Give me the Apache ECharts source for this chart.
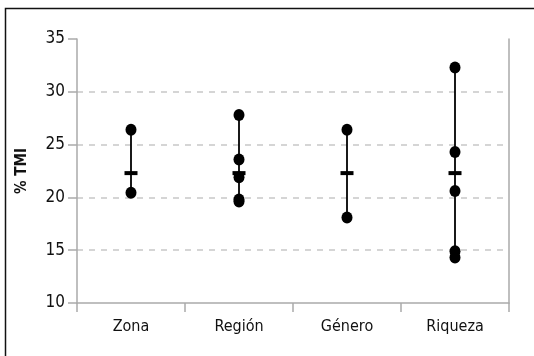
<!DOCTYPE html>
<html><head><meta charset="utf-8">
<script src="https://cdn.jsdelivr.net/npm/echarts@6/dist/echarts.min.js"></script>
<style>html,body{margin:0;padding:0;background:#fff}#c{width:534px;height:356px}</style>
</head><body><div id="c"></div>
<script>
const categories = ['Zona', 'Región', 'Género', 'Riqueza'];
const zonaValues = [26.4, 20.45];
const regionValues = [27.8, 23.6, 21.9, 19.8, 19.6];
const generoValues = [26.4, 18.1];
const riquezaValues = [32.3, 24.3, 20.6, 14.9, 14.3];
const meanValues = [22.3, 22.3, 22.3, 22.3];
const yTicks = [10, 15, 20, 25, 30, 35];

const groups = [zonaValues, regionValues, generoValues, riquezaValues];
const dots = [];
groups.forEach((g, i) => g.forEach(v => dots.push([i, v])));
const ranges = groups.map((g, i) => [i, Math.min(...g), Math.max(...g)]);
const means = meanValues.map((v, i) => [i, v]);

const FONT = '"Liberation Sans Narrow", "DejaVu Sans Condensed", sans-serif';
const chart = echarts.init(document.getElementById('c'));
chart.setOption({
  animation: false,
  grid: { left: 77, right: 25, top: 39, bottom: 53 },
  graphic: [{
    type: 'polyline', silent: true,
    shape: { points: [[5.5, 400], [5.5, 8.5], [600, 8.5]] },
    style: { stroke: '#111', lineWidth: 1.5, fill: null }
  }],
  xAxis: {
    type: 'category', data: categories, boundaryGap: true,
    axisLine: { lineStyle: { color: '#aaa', width: 1.5 } },
    axisTick: { show: true, length: 9, lineStyle: { color: '#aaa', width: 1.5 } },
    axisLabel: { color: '#111', fontFamily: FONT, fontSize: 16, margin: 16 }
  },
  yAxis: [{
    type: 'value', min: yTicks[0], max: yTicks[yTicks.length - 1], interval: 5,
    name: '% TMI', nameLocation: 'middle', nameGap: 47,
    nameTextStyle: { color: '#111', fontFamily: FONT, fontSize: 15, fontWeight: 'bold' },
    axisLine: { show: true, lineStyle: { color: '#aaa', width: 1.5 } },
    axisTick: { show: true, length: 9, lineStyle: { color: '#aaa', width: 1.5 } },
    axisLabel: { color: '#111', fontFamily: FONT, fontSize: 17, margin: 12 },
    splitLine: { show: true, showMinLine: false, showMaxLine: false,
      lineStyle: { color: '#c8c8c8', type: [6, 6], width: 1.5 } }
  }, {
    type: 'value', min: yTicks[0], max: yTicks[yTicks.length - 1], position: 'right',
    axisLine: { show: true, lineStyle: { color: '#aaa', width: 1.5 } },
    axisTick: { show: false }, axisLabel: { show: false }, splitLine: { show: false }
  }],
  series: [{
    type: 'custom', z: 2,
    data: ranges,
    renderItem: function (params, api) {
      const a = api.coord([api.value(0), api.value(1)]);
      const b = api.coord([api.value(0), api.value(2)]);
      return { type: 'line', shape: { x1: a[0], y1: a[1], x2: b[0], y2: b[1] },
        style: { stroke: '#000', lineWidth: 1.8 } };
    }
  }, {
    type: 'scatter', z: 3, data: means, symbol: 'rect', symbolSize: [13, 4],
    itemStyle: { color: '#000', opacity: 1 }
  }, {
    type: 'scatter', z: 4, data: dots, symbol: 'circle', symbolSize: [11, 12],
    itemStyle: { color: '#000', opacity: 1 }
  }]
});
</script></body></html>
